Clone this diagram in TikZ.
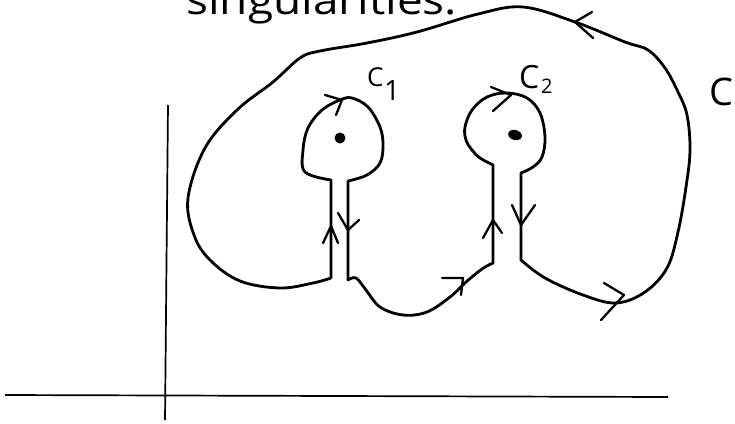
\documentclass[tikz,border=0pt]{standalone}
\usepackage{fontspec}
\setmainfont{Open Sans}
\begin{document}
\begin{tikzpicture}[x=1pt,y=-1pt,
  contour/.style={line width=2.8pt,line join=round,line cap=round},
  tick/.style={line width=2.3pt,line join=round,line cap=round},
  axis/.style={line width=1.7pt},
  hand/.style={inner sep=0pt,anchor=base west}]
\useasboundingbox (0,0) rectangle (735,423);

% coordinate axes
\coordinate (xl) at (5,395);
\coordinate (xr) at (668,397);
\coordinate (yt) at (168,105);
\coordinate (yb) at (165,420);
\draw[axis] (xl) -- (xr);
\draw[axis] (yt) -- (yb);

% the contour C with the two keyhole detours around the singular points
\draw[contour] (331,278) -- (331,180)
  -- plot[smooth,tension=0.6] coordinates {(331,180) (305,172) (303,150) (308,128) (322,110) (340,100) (352,98) (368,107) (380,127) (383,145) (380,163) (367,175) (348,181)}
  -- (348,280)
  -- plot[smooth,tension=0.6] coordinates {(348,280) (356,278) (366,290) (380,307) (403,315) (427,312) (450,297) (466,282) (482,269) (493,263)}
  -- (493,165)
  -- plot[smooth,tension=0.6] coordinates {(493,165) (480,158) (472,150) (466,140) (465,127) (472,110) (487,97) (507,93) (527,98) (540,113) (545,137) (542,157) (533,167) (521,173)}
  -- (521,260)
  -- plot[smooth,tension=0.6] coordinates {(521,260) (545,278) (583,295) (616,303) (645,292) (667,268) (678,232) (686,187) (690,150) (687,115) (678,92) (665,68) (648,50) (625,42) (575,22) (523,7) (478,14) (417,32) (367,43) (320,51) (300,58) (273,82) (237,110) (205,148) (188,198) (194,235) (210,260) (240,281) (280,288) (313,283) (331,278)};

% singular points
\fill (340,138) circle[radius=5.5];
\fill[rotate around={-15:(515,135)}] (515,135) ellipse[x radius=7,y radius=5];

% direction marks
\draw[tick] (592,12) -- (575,22) -- (593,38);
\draw[tick] (325,95) -- (342,100) -- (336,115);
\draw[tick] (491,87) -- (511,95) -- (493,111);
\draw[tick] (323,243) -- (331,226) -- (338,243);
\draw[tick] (338,213) -- (348,230) -- (359,220);
\draw[tick] (483,238) -- (493,220) -- (502,233);
\draw[tick] (512,205) -- (521,225) -- (535,205);
\draw[tick] (442,278) -- (463,278) -- (461,295);
\draw[tick] (604,283) -- (624,295) -- (601,320);

% labels
\node[hand,font=\fontsize{40}{40}\selectfont,xscale=1.15] (title) at (186,14) {singularities:};
\node[hand,font=\fontsize{26}{26}\selectfont] (c1) at (367,86) {C};
\node[hand,font=\fontsize{28}{28}\selectfont] (c1i) at (384,100) {1};
\node[hand,font=\fontsize{32}{32}\selectfont] (c2) at (519,88) {C};
\node[hand,font=\fontsize{20}{20}\selectfont] (c2i) at (541,93) {2};
\node[hand,font=\fontsize{38}{38}\selectfont] (cc) at (709,105) {C};
\end{tikzpicture}
\end{document}
